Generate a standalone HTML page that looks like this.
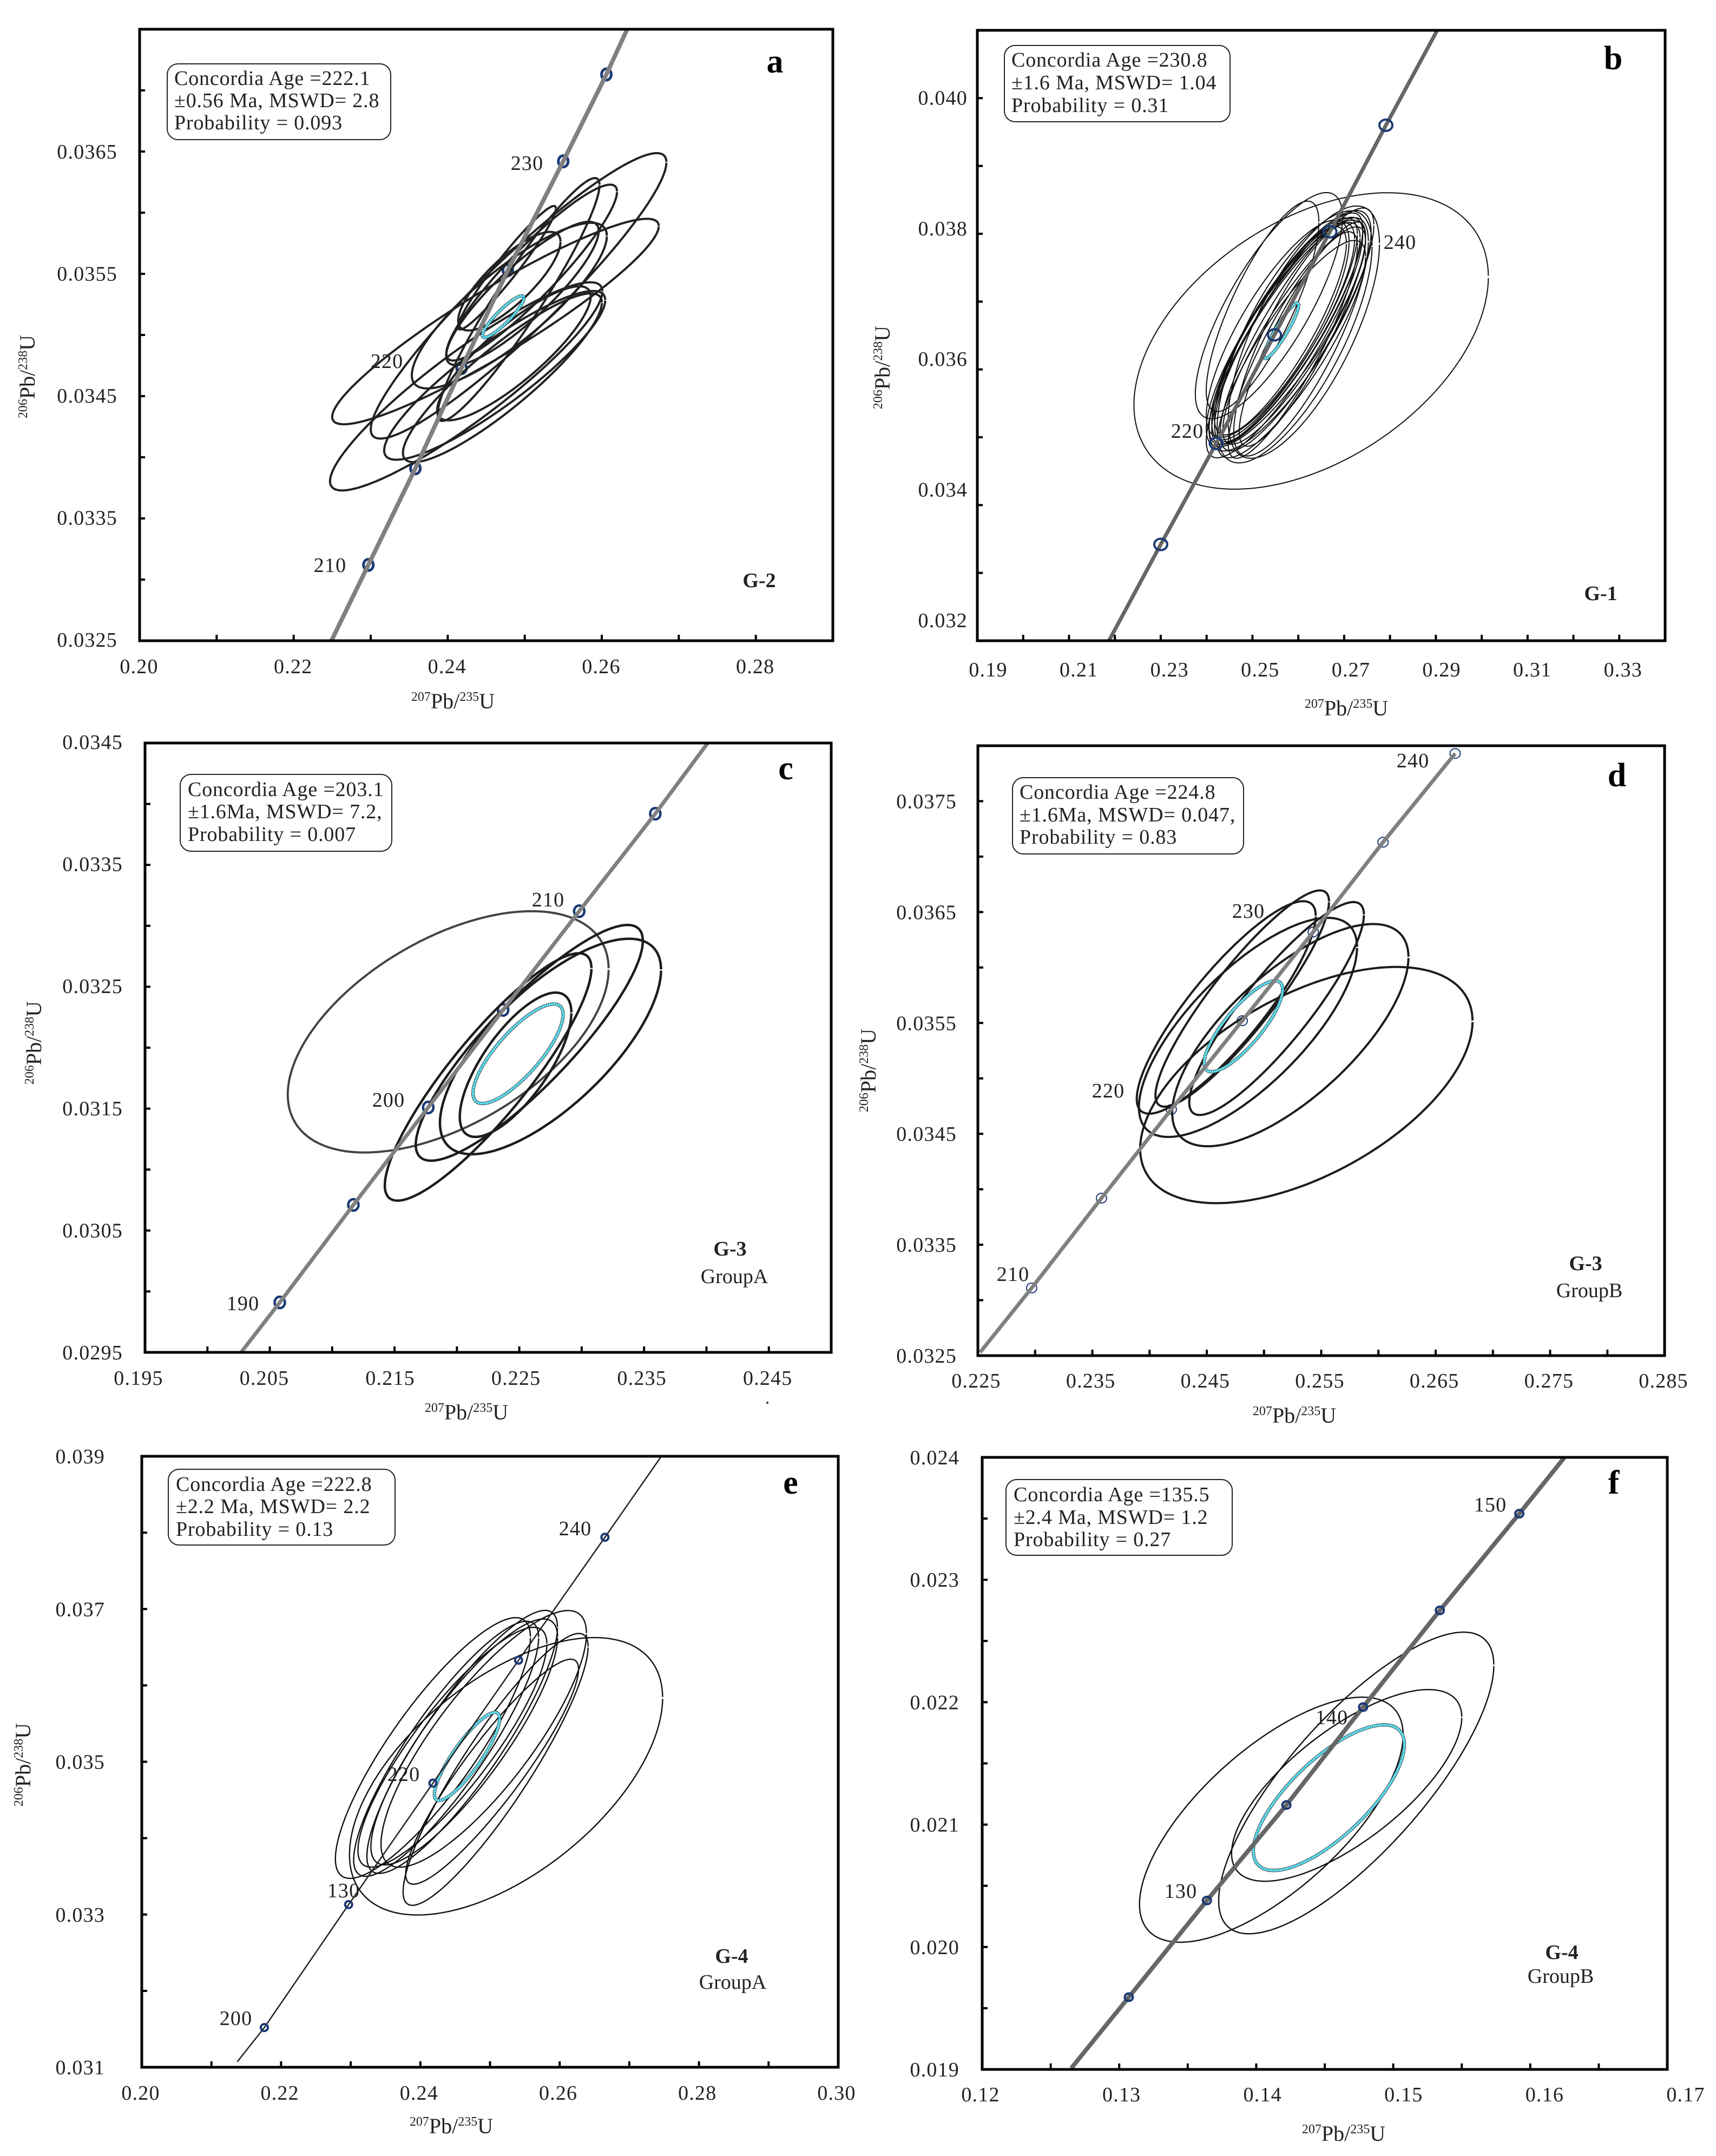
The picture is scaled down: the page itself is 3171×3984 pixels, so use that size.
<!DOCTYPE html>
<html lang="en">
<head>
<meta charset="utf-8">
<title>U-Pb concordia diagrams</title>
<style>
html,body{margin:0;padding:0;background:#fff;}
svg{display:block;}
text{font-family:"Liberation Serif","DejaVu Serif",serif;fill:#111;}
.info{font-size:38px;letter-spacing:.85px;fill:#222;}
.age{font-size:38px;letter-spacing:1.2px;fill:#222;}
.tick{font-size:38px;letter-spacing:1.2px;fill:#222;}
.title{font-size:40px;fill:#222;}
.sup{font-size:24px;}
.letter{font-size:62px;font-weight:bold;fill:#000;text-anchor:middle;}
.sample{font-size:38px;font-weight:bold;text-anchor:middle;fill:#222;}
.group{font-size:38px;text-anchor:middle;fill:#222;}
.box{fill:#fff;stroke:#222;stroke-width:2;}
</style>
</head>
<body>
<svg id="figure" xmlns="http://www.w3.org/2000/svg" width="3171" height="3984" viewBox="0 0 3171 3984">
<rect x="0" y="0" width="3171" height="3984" fill="#fff"/>
<g id="plot-layer"></g>

<g>
<rect class="box" x="309" y="118" width="413" height="140" rx="20"/>
<text class="info" x="322" y="157">Concordia Age =222.1</text>
<text class="info" x="322" y="198">±0.56 Ma, MSWD= 2.8</text>
<text class="info" x="322" y="239">Probability = 0.093</text>
<text class="letter" x="1432" y="134">a</text>
<text class="sample" x="1403" y="1085">G-2</text>
<text class="age" text-anchor="middle" x="974" y="314">230</text>
<text class="age" text-anchor="middle" x="715" y="680">220</text>
<text class="age" text-anchor="middle" x="610" y="1057">210</text>
<text class="title" text-anchor="middle" x="837" y="1309"><tspan class="sup" dy="-14">207</tspan><tspan dy="14">Pb/</tspan><tspan class="sup" dy="-14">235</tspan><tspan dy="14">U</tspan></text>
<text class="title" text-anchor="middle" transform="translate(64 696) rotate(-90)"><tspan class="sup" dy="-14">206</tspan><tspan dy="14">Pb/</tspan><tspan class="sup" dy="-14">238</tspan><tspan dy="14">U</tspan></text>
</g>

<g>
<rect class="box" x="1856" y="84" width="417" height="141" rx="20"/>
<text class="info" x="1869" y="123">Concordia Age =230.8</text>
<text class="info" x="1869" y="165">±1.6 Ma, MSWD= 1.04</text>
<text class="info" x="1869" y="207">Probability = 0.31</text>
<text class="letter" x="2981" y="128">b</text>
<text class="sample" x="2958" y="1109">G-1</text>
<text class="age" text-anchor="middle" x="2587" y="460">240</text>
<text class="age" text-anchor="middle" x="2194" y="809">220</text>
<text class="title" text-anchor="middle" x="2488" y="1322"><tspan class="sup" dy="-14">207</tspan><tspan dy="14">Pb/</tspan><tspan class="sup" dy="-14">235</tspan><tspan dy="14">U</tspan></text>
<text class="title" text-anchor="middle" transform="translate(1644 679) rotate(-90)"><tspan class="sup" dy="-14">206</tspan><tspan dy="14">Pb/</tspan><tspan class="sup" dy="-14">238</tspan><tspan dy="14">U</tspan></text>
</g>

<g>
<rect class="box" x="333" y="1431" width="391" height="142" rx="20"/>
<text class="info" x="347" y="1471">Concordia Age =203.1</text>
<text class="info" x="347" y="1512">±1.6Ma, MSWD= 7.2,</text>
<text class="info" x="347" y="1554">Probability = 0.007</text>
<text class="letter" x="1452" y="1440">c</text>
<text class="sample" x="1349" y="2320">G-3</text>
<text class="group" x="1357" y="2371">GroupA</text>
<text class="age" text-anchor="middle" x="449" y="2421">190</text>
<text class="age" text-anchor="middle" x="718" y="2045">200</text>
<text class="age" text-anchor="middle" x="1013" y="1675">210</text>
<circle cx="1418" cy="2592" r="2" fill="#333"/>
<text class="title" text-anchor="middle" x="862" y="2623"><tspan class="sup" dy="-14">207</tspan><tspan dy="14">Pb/</tspan><tspan class="sup" dy="-14">235</tspan><tspan dy="14">U</tspan></text>
<text class="title" text-anchor="middle" transform="translate(76 1927) rotate(-90)"><tspan class="sup" dy="-14">206</tspan><tspan dy="14">Pb/</tspan><tspan class="sup" dy="-14">238</tspan><tspan dy="14">U</tspan></text>
</g>

<g>
<rect class="box" x="1871" y="1437" width="427" height="141" rx="20"/>
<text class="info" x="1884" y="1476">Concordia Age =224.8</text>
<text class="info" x="1884" y="1518">±1.6Ma, MSWD= 0.047,</text>
<text class="info" x="1884" y="1559">Probability = 0.83</text>
<text class="letter" x="2988" y="1453">d</text>
<text class="sample" x="2930" y="2347">G-3</text>
<text class="group" x="2937" y="2397">GroupB</text>
<text class="age" text-anchor="middle" x="2611" y="1418">240</text>
<text class="age" text-anchor="middle" x="2307" y="1696">230</text>
<text class="age" text-anchor="middle" x="2048" y="2028">220</text>
<text class="age" text-anchor="middle" x="1872" y="2367">210</text>
<text class="title" text-anchor="middle" x="2392" y="2629"><tspan class="sup" dy="-14">207</tspan><tspan dy="14">Pb/</tspan><tspan class="sup" dy="-14">235</tspan><tspan dy="14">U</tspan></text>
<text class="title" text-anchor="middle" transform="translate(1618 1978) rotate(-90)"><tspan class="sup" dy="-14">206</tspan><tspan dy="14">Pb/</tspan><tspan class="sup" dy="-14">238</tspan><tspan dy="14">U</tspan></text>
</g>

<g>
<rect class="box" x="311" y="2715" width="419" height="140" rx="20"/>
<text class="info" x="325" y="2755">Concordia Age =222.8</text>
<text class="info" x="325" y="2796">±2.2 Ma, MSWD= 2.2</text>
<text class="info" x="325" y="2838">Probability = 0.13</text>
<text class="letter" x="1461" y="2760">e</text>
<text class="sample" x="1352" y="3627">G-4</text>
<text class="group" x="1354" y="3675">GroupA</text>
<text class="age" text-anchor="middle" x="1063" y="2837">240</text>
<text class="age" text-anchor="middle" x="746" y="3291">220</text>
<text class="age" text-anchor="middle" x="635" y="3506">130</text>
<text class="age" text-anchor="middle" x="436" y="3742">200</text>
<text class="title" text-anchor="middle" x="834" y="3942"><tspan class="sup" dy="-14">207</tspan><tspan dy="14">Pb/</tspan><tspan class="sup" dy="-14">235</tspan><tspan dy="14">U</tspan></text>
<text class="title" text-anchor="middle" transform="translate(56 3261) rotate(-90)"><tspan class="sup" dy="-14">206</tspan><tspan dy="14">Pb/</tspan><tspan class="sup" dy="-14">238</tspan><tspan dy="14">U</tspan></text>
</g>

<g>
<rect class="box" x="1859" y="2734" width="418" height="140" rx="20"/>
<text class="info" x="1873" y="2774">Concordia Age =135.5</text>
<text class="info" x="1873" y="2816">±2.4 Ma, MSWD= 1.2</text>
<text class="info" x="1873" y="2857">Probability = 0.27</text>
<text class="letter" x="2982" y="2760">f</text>
<text class="sample" x="2886" y="3620">G-4</text>
<text class="group" x="2884" y="3664">GroupB</text>
<text class="age" text-anchor="middle" x="2754" y="2793">150</text>
<text class="age" text-anchor="middle" x="2461" y="3186">140</text>
<text class="age" text-anchor="middle" x="2182" y="3507">130</text>
<text class="title" text-anchor="middle" x="2483" y="3956"><tspan class="sup" dy="-14">207</tspan><tspan dy="14">Pb/</tspan><tspan class="sup" dy="-14">235</tspan><tspan dy="14">U</tspan></text>
</g>
</svg>

<script>
// Each ellipse row: centre x, centre y, half-width x, half-height y, error correlation.
const aXTicks = [0.21,0.22,0.23,0.24,0.25,0.26,0.27,0.28];
const aXLabels = ['0.20','0.22','0.24','0.26','0.28'];
const aYTicks = [0.033,0.0335,0.034,0.0345,0.035,0.0355,0.036,0.0365,0.037];
const aYLabels = ['0.0325','0.0335','0.0345','0.0355','0.0365'];
const aConcX = [0.2249,0.2297,0.2358,0.2418,0.2478,0.2550,0.2606,0.2633];
const aConcY = [0.0325,0.03312,0.03391,0.03473,0.03553,0.03642,0.03713,0.0375];
const aMarkX = [0.2297,0.2358,0.2418,0.2478,0.2550,0.2606];
const aMarkY = [0.03312,0.03391,0.03473,0.03553,0.03642,0.03713];
const aEllipses = [
[0.2492,0.03532,0.01919,0.001167,0.935],
[0.2462,0.03511,0.0212,0.00084,0.928],
[0.2424,0.03458,0.01768,0.000851,0.911],
[0.2461,0.03467,0.01435,0.00069,0.89],
[0.2471,0.03465,0.01291,0.00069,0.89],
[0.2492,0.03529,0.01051,0.000993,0.943],
[0.2509,0.03551,0.01108,0.000719,0.92],
[0.2480,0.03524,0.01266,0.000677,0.84],
[0.2477,0.03555,0.00635,0.000505,0.96],
[0.2480,0.03544,0.00664,0.000403,0.8],
[0.2486,0.03485,0.00997,0.000548,0.85],
[0.2497,0.03534,0.0099,0.000586,0.87]
];
const aMean = [0.2472,0.03515,0.00269,0.00017,0.9];

const bXTicks = [0.20,0.21,0.22,0.23,0.24,0.25,0.26,0.27,0.28,0.29,0.30,0.31,0.32,0.33];
const bXLabels = ['0.19','0.21','0.23','0.25','0.27','0.29','0.31','0.33'];
const bYTicks = [0.033,0.034,0.035,0.036,0.037,0.038,0.039,0.040];
const bYLabels = ['0.032','0.034','0.036','0.038','0.040'];
const bConcX = [0.2187,0.2300,0.2421,0.2548,0.2669,0.2791,0.2903];
const bConcY = [0.032,0.03342,0.03491,0.03651,0.03803,0.0396,0.041];
const bMarkX = [0.2300,0.2421,0.2548,0.2669,0.2791];
const bMarkY = [0.03342,0.03491,0.03651,0.03803,0.0396];
const bEllipses = [
[0.2628,0.03642,0.03864,0.002185,0.432],
[0.2536,0.03694,0.01605,0.001667,0.78],
[0.2522,0.03693,0.01228,0.001551,0.80],
[0.2612,0.03655,0.0165,0.00186,0.70],
[0.2592,0.03648,0.01689,0.001858,0.72],
[0.2570,0.03647,0.01707,0.001773,0.86],
[0.2573,0.03653,0.01737,0.00167,0.84],
[0.2573,0.03653,0.01617,0.001636,0.86],
[0.2582,0.03657,0.01767,0.001773,0.82],
[0.2585,0.0363,0.01617,0.001602,0.85],
[0.2606,0.03648,0.01468,0.001756,0.80],
[0.2564,0.03653,0.01587,0.001636,0.85],
[0.2570,0.0366,0.01587,0.001636,0.85],
[0.2579,0.03662,0.01617,0.001687,0.86],
[0.2597,0.03659,0.01677,0.00179,0.86],
[0.2555,0.0366,0.01557,0.001602,0.80],
[0.2591,0.0365,0.01557,0.001602,0.87],
[0.2588,0.03636,0.01408,0.00167,0.87],
[0.2609,0.03652,0.01378,0.001653,0.87],
[0.2561,0.03657,0.01438,0.001534,0.84]
];
const bMean = [0.2563,0.03657,0.00377,0.000409,0.92];

const cXTicks = [0.200,0.205,0.210,0.215,0.220,0.225,0.230,0.235,0.240,0.245];
const cXLabels = ['0.195','0.205','0.215','0.225','0.235','0.245'];
const cYTicks = [0.030,0.0305,0.031,0.0315,0.032,0.0325,0.033,0.0335,0.034];
const cYLabels = ['0.0295','0.0305','0.0315','0.0325','0.0335','0.0345'];
const cConcX = [0.2027,0.2058,0.2117,0.2177,0.2237,0.2298,0.2359,0.2401];
const cConcY = [0.0295,0.02991,0.03071,0.03151,0.03231,0.03312,0.03392,0.0345];
const cMarkX = [0.2058,0.2117,0.2177,0.2237,0.2298,0.2359];
const cMarkY = [0.02991,0.03071,0.03151,0.03231,0.03312,0.03392];
const cEllipses = [
[0.2193,0.03213,0.01286,0.00099,0.52],
[0.2225,0.03176,0.00828,0.001015,0.877],
[0.2258,0.03204,0.0091,0.000967,0.865],
[0.2275,0.03201,0.00886,0.000884,0.71],
[0.2247,0.03186,0.00447,0.000592,0.72]
];
const cMean = [0.2249,0.03195,0.00361,0.000408,0.79];

const dXTicks = [0.230,0.235,0.240,0.245,0.250,0.255,0.260,0.265,0.270,0.275,0.280];
const dXLabels = ['0.225','0.235','0.245','0.255','0.265','0.275','0.285'];
const dYTicks = [0.033,0.0335,0.034,0.0345,0.035,0.0355,0.036,0.0365,0.037,0.0375];
const dYLabels = ['0.0325','0.0335','0.0345','0.0355','0.0365','0.0375'];
const dConcX = [0.2252,0.2297,0.2358,0.2419,0.2481,0.2543,0.2604,0.2667];
const dConcY = [0.03253,0.03311,0.03392,0.03472,0.03552,0.03632,0.03713,0.03793];
const dMarkX = [0.2297,0.2358,0.2419,0.2481,0.2543,0.2604,0.2667];
const dMarkY = [0.03311,0.03392,0.03472,0.03552,0.03632,0.03713,0.03793];
const dEllipses = [
[0.2537,0.03494,0.01452,0.001065,0.54],
[0.2523,0.03539,0.01032,0.001002,0.70],
[0.2486,0.03546,0.00953,0.000988,0.73],
[0.2511,0.03563,0.00763,0.00096,0.88],
[0.2467,0.03564,0.00782,0.000958,0.86],
[0.2481,0.03572,0.00758,0.000975,0.895]
];
const dMean = [0.2482,0.03547,0.00343,0.00041,0.81];

const eXTicks = [0.21,0.22,0.23,0.24,0.25,0.26,0.27,0.28,0.29];
const eXLabels = ['0.20','0.22','0.24','0.26','0.28','0.30'];
const eYTicks = [0.032,0.033,0.034,0.035,0.036,0.037,0.038];
const eYLabels = ['0.031','0.033','0.035','0.037','0.039'];
const eConcX = [0.2137,0.2176,0.2297,0.2418,0.2541,0.2665,0.2746];
const eConcY = [0.03107,0.03152,0.03313,0.03472,0.03633,0.03794,0.039];
const eMarkX = [0.2176,0.2297,0.2418,0.2541,0.2665];
const eMarkY = [0.03152,0.03313,0.03472,0.03633,0.03794];
const eEllipses = [
[0.2523,0.03481,0.02248,0.001816,0.565],
[0.2418,0.03518,0.0140,0.001707,0.85],
[0.2437,0.03517,0.01328,0.00167,0.87],
[0.2446,0.03519,0.01356,0.00157,0.86],
[0.2460,0.03526,0.01368,0.001722,0.87],
[0.2491,0.0353,0.01475,0.00168,0.82],
[0.2463,0.03526,0.0134,0.00161,0.85],
[0.2508,0.0349,0.01328,0.00178,0.90],
[0.2503,0.03487,0.01241,0.001473,0.91]
];
const eMean = [0.2467,0.03507,0.00468,0.000577,0.86];

const fXTicks = [0.125,0.13,0.135,0.14,0.145,0.15,0.155,0.16,0.165];
const fXLabels = ['0.12','0.13','0.14','0.15','0.16','0.17'];
const fYTicks = [0.0195,0.020,0.0205,0.021,0.0215,0.022,0.0225,0.023,0.0235];
const fYLabels = ['0.019','0.020','0.021','0.022','0.023','0.024'];
const fConcX = [0.1265,0.1307,0.1364,0.1422,0.1478,0.1534,0.1592,0.1625];
const fConcY = [0.01901,0.01959,0.02038,0.02116,0.02196,0.02275,0.02354,0.024];
const fMarkX = [0.1307,0.1364,0.1422,0.1478,0.1534,0.1592];
const fMarkY = [0.01959,0.02038,0.02116,0.02196,0.02275,0.02354];
const fEllipses = [
[0.1411,0.02104,0.00962,0.001001,0.69],
[0.1473,0.02134,0.01004,0.001232,0.78],
[0.1466,0.02132,0.0084,0.000783,0.71]
];
const fMean = [0.1453,0.02122,0.00551,0.000595,0.73];

const NS = 'http://www.w3.org/2000/svg';
const layer = document.getElementById('plot-layer');

function mk(parent, tag, attrs) {
  const el = document.createElementNS(NS, tag);
  for (const k in attrs) el.setAttribute(k, attrs[k]);
  parent.appendChild(el);
  return el;
}

function ellipsePath(row, X, Y, gap) {
  const cx = row[0], cy = row[1], hw = row[2], hh = row[3], rho = row[4];
  const q = Math.sqrt(1 - rho * rho);
  const n = 180;
  let d = '';
  for (let i = 0; i <= n; i++) {
    const t = gap + (2 * Math.PI - 2 * gap) * i / n;
    const px = X(cx + hw * Math.cos(t));
    const py = Y(cy + hh * (rho * Math.cos(t) + q * Math.sin(t)));
    d += (i ? 'L' : 'M') + px.toFixed(1) + ' ' + py.toFixed(1);
  }
  return d;
}

function drawPanel(p) {
  const X = v => p.left + (v - p.xMin) / (p.xMax - p.xMin) * (p.right - p.left);
  const Y = v => p.bottom - (v - p.yMin) / (p.yMax - p.yMin) * (p.bottom - p.top);
  const g = mk(layer, 'g', {});
  
  

  const clip = mk(g, 'clipPath', {id: 'clip-' + p.id});
  mk(clip, 'rect', {x: p.left, y: p.top, width: p.right - p.left, height: p.bottom - p.top});
  const inner = mk(g, 'g', {'clip-path': 'url(#clip-' + p.id + ')'});
  
  

  function markers() {
    p.markX.forEach(function (mx, i) {
      const c = mk(inner, 'ellipse', {cx: X(mx), cy: Y(p.markY[i]), rx: p.markRx, ry: p.markRy, fill: 'none', stroke: '#1b3a75', 'stroke-width': p.markWidth});
      
      
    });
  }
  function curve() {
    let d = '';
    p.concX.forEach(function (cx, i) {
      d += (i ? 'L' : 'M') + X(cx).toFixed(1) + ' ' + Y(p.concY[i]).toFixed(1);
    });
    const l = mk(inner, 'path', {d: d, fill: 'none', stroke: p.lineColor, 'stroke-width': p.lineWidth});
    
    
  }

  if (!p.markersOnTop) markers();

  p.ellipses.forEach(function (row, i) {
    const first = i === 0 && p.firstColor;
    const e = mk(inner, 'path', {d: ellipsePath(row, X, Y, 0.008), fill: 'none', stroke: first ? p.firstColor : p.ellColor, 'stroke-width': first ? p.firstWidth : p.ellWidth});
    
    
  });

  const mBase = mk(inner, 'path', {d: ellipsePath(p.mean, X, Y, 0), fill: '#fff', 'fill-opacity': 0, stroke: '#222', 'stroke-width': 6});
  
  
  const mWhite = mk(inner, 'path', {d: ellipsePath(p.mean, X, Y, 0), fill: 'none', stroke: '#e8fbff', 'stroke-width': 4.4});
  
  
  const mTop = mk(inner, 'path', {d: ellipsePath(p.mean, X, Y, 0), fill: 'none', stroke: '#22c4d8', 'stroke-width': 4.4, 'stroke-dasharray': '3 1.2'});
  
  

  if (p.markersOnTop) { curve(); markers(); } else { curve(); }

  p.xTicks.forEach(function (v) {
    const t = mk(g, 'line', {x1: X(v), x2: X(v), y1: p.bottom, y2: p.bottom - 11, stroke: '#000', 'stroke-width': 4});
    
    
  });
  p.yTicks.forEach(function (v) {
    const t = mk(g, 'line', {x1: p.left, x2: p.left + 10, y1: Y(v), y2: Y(v), stroke: '#000', 'stroke-width': 4});
    
    
  });

  const frame = mk(g, 'rect', {x: p.left, y: p.top, width: p.right - p.left, height: p.bottom - p.top, fill: 'none', stroke: '#000', 'stroke-width': 5});
  
  

  p.xLabels.forEach(function (s, i) {
    const f = i / (p.xLabels.length - 1);
    const off = p.xOffA + (p.xOffB - p.xOffA) * f;
    const t = mk(g, 'text', {class: 'tick', x: X(parseFloat(s)) + off, y: p.xLabelY + 13, 'text-anchor': 'middle'});
    
    
    t.textContent = s;
  });
  p.yLabels.forEach(function (s, i) {
    const f = i / (p.yLabels.length - 1);
    const off = p.yOffA + (p.yOffB - p.yOffA) * f;
    const t = mk(g, 'text', {class: 'tick', x: p.yLabelRight, y: Y(parseFloat(s)) + off + 13, 'text-anchor': 'end'});
    
    
    t.textContent = s;
  });
}

drawPanel({id:'a',left:258,right:1539,top:54,bottom:1184,xMin:0.20,xMax:0.29,yMin:0.0325,yMax:0.0375,
  xTicks:aXTicks,xLabels:aXLabels,yTicks:aYTicks,yLabels:aYLabels,concX:aConcX,concY:aConcY,markX:aMarkX,markY:aMarkY,ellipses:aEllipses,mean:aMean,
  ellColor:'#222',ellWidth:4,lineColor:'#808080',lineWidth:8,markRx:9,markRy:10.5,markWidth:5,markersOnTop:false,
  xLabelY:1231,yLabelRight:217,xOffA:-1,xOffB:-1,yOffA:-2,yOffB:0});
drawPanel({id:'b',left:1806,right:3077,top:56,bottom:1184,xMin:0.19,xMax:0.34,yMin:0.032,yMax:0.041,
  xTicks:bXTicks,xLabels:bXLabels,yTicks:bYTicks,yLabels:bYLabels,concX:bConcX,concY:bConcY,markX:bMarkX,markY:bMarkY,ellipses:bEllipses,mean:bMean,
  ellColor:'#111',ellWidth:2,lineColor:'#666',lineWidth:7,markRx:12,markRy:10.5,markWidth:4,markersOnTop:true,
  xLabelY:1237,yLabelRight:1788,xOffA:20,xOffB:7,yOffA:-38,yOffB:-1});
drawPanel({id:'c',left:268,right:1536,top:1373,bottom:2499,xMin:0.195,xMax:0.25,yMin:0.0295,yMax:0.0345,
  xTicks:cXTicks,xLabels:cXLabels,yTicks:cYTicks,yLabels:cYLabels,concX:cConcX,concY:cConcY,markX:cMarkX,markY:cMarkY,ellipses:cEllipses,mean:cMean,
  ellColor:'#1c1c1c',ellWidth:4.5,firstColor:'#444',firstWidth:4,lineColor:'#808080',lineWidth:7,markRx:9.5,markRy:10.5,markWidth:4.5,markersOnTop:false,
  xLabelY:2546,yLabelRight:227,xOffA:-12,xOffB:-2,yOffA:0,yOffB:-2});
drawPanel({id:'d',left:1807,right:3076,top:1378,bottom:2505,xMin:0.225,xMax:0.285,yMin:0.0325,yMax:0.038,
  xTicks:dXTicks,xLabels:dXLabels,yTicks:dYTicks,yLabels:dYLabels,concX:dConcX,concY:dConcY,markX:dMarkX,markY:dMarkY,ellipses:dEllipses,mean:dMean,
  ellColor:'#1c1c1c',ellWidth:4,lineColor:'#808080',lineWidth:7,markRx:9.5,markRy:9,markWidth:2,markersOnTop:false,
  xLabelY:2551,yLabelRight:1768,xOffA:-3,xOffB:-2,yOffA:0,yOffB:0});
drawPanel({id:'e',left:262,right:1549,top:2691,bottom:3820,xMin:0.20,xMax:0.30,yMin:0.031,yMax:0.039,
  xTicks:eXTicks,xLabels:eXLabels,yTicks:eYTicks,yLabels:eYLabels,concX:eConcX,concY:eConcY,markX:eMarkX,markY:eMarkY,ellipses:eEllipses,mean:eMean,
  ellColor:'#111',ellWidth:2.4,lineColor:'#222',lineWidth:2.5,markRx:6.5,markRy:6.5,markWidth:4,markersOnTop:true,
  xLabelY:3867,yLabelRight:194,xOffA:-2,xOffB:-3,yOffA:0,yOffB:0});
drawPanel({id:'f',left:1815,right:3081,top:2693,bottom:3824,xMin:0.12,xMax:0.17,yMin:0.019,yMax:0.024,
  xTicks:fXTicks,xLabels:fXLabels,yTicks:fYTicks,yLabels:fYLabels,concX:fConcX,concY:fConcY,markX:fMarkX,markY:fMarkY,ellipses:fEllipses,mean:fMean,
  ellColor:'#111',ellWidth:2.4,lineColor:'#666',lineWidth:8,markRx:7.5,markRy:7,markWidth:4,markersOnTop:true,
  xLabelY:3870,yLabelRight:1773,xOffA:-3,xOffB:34,yOffA:0,yOffB:0});
</script>
</body>
</html>
